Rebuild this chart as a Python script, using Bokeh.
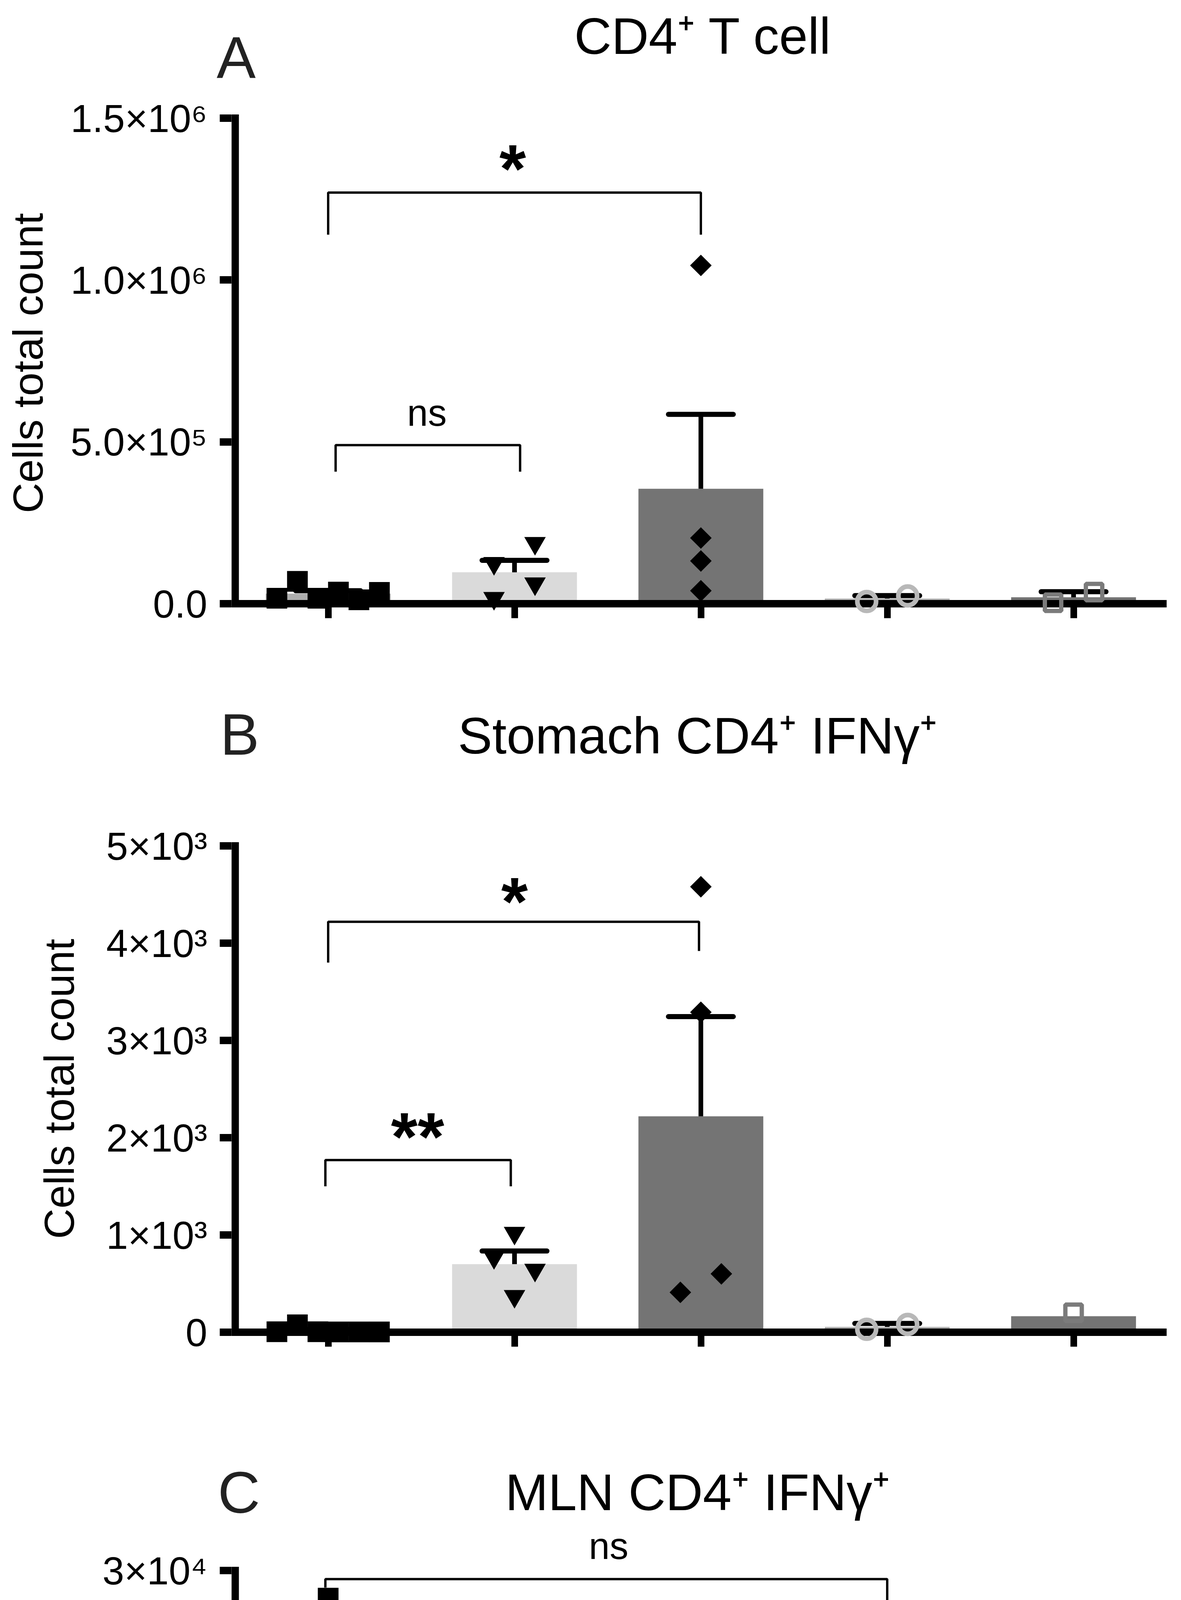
import numpy as np
from bokeh.plotting import figure
from bokeh.layouts import column
from bokeh.models import Range1d, FixedTicker, Span, Label
from bokeh.embed import file_html
from bokeh.resources import INLINE

# ---------------- data ----------------
categories = ["sham\nvaccinated", "UreA nc\nalone", "UreA nc+\nadjuvant",
              "adjuvant\nalone", "sham\nvaccinated"]
bar_colors = ["#adadad", "#dadada", "#747474", "#b4b4b4", "#747474"]
y_label = "Cells total count"
challenge_italic = "H. pylori"
challenge_rest = "challenge"

# Panel A: CD4+ T cell
a_title = "CD4⁺ T cell"
a_ymax = 1.5e6
a_ticks = [0.0, 5e5, 1e6, 1.5e6]
a_tick_labels = ["0.0", "5.0×10⁵", "1.0×10⁶", "1.5×10⁶"]
a_mean = [31000, 97000, 355000, 16000, 20000]
a_sem = [9000, 37000, 230000, 9000, 17000]
a_points = [[17000, 69000, 17000, 36000, 12000, 35000],
            [125000, 187000, 62000, 17000],
            [1045000, 203000, 132000, 40000],
            [7000, 24000],
            [3000, 36000]]
a_jitter = [[-0.275, -0.165, -0.055, 0.055, 0.165, 0.275],
            [-0.11, 0.11, 0.11, -0.11],
            [0.0, 0.0, 0.0, 0.0],
            [-0.11, 0.11],
            [-0.11, 0.11]]
# bracket: (x_left, x_right, y_bar, y_tip_left, y_tip_right)
a_brackets = [(0.04, 1.03, 490000, 408000, 408000),
              (0.0, 2.0, 1270000, 1140000, 1140000)]
a_marks = [("ns", 0.53, 599000), ("*", 0.99, 1380000)]

# Panel B: Stomach CD4+ IFNg+
b_title = "Stomach CD4⁺ IFNγ⁺"
b_ymax = 5000
b_ticks = [0.0, 1000.0, 2000.0, 3000.0, 4000.0, 5000.0]
b_tick_labels = ["0", "1×10³", "2×10³", "3×10³", "4×10³", "5×10³"]
b_mean = [15, 700, 2220, 55, 165]
b_sem = [12, 135, 1025, 35, 0]
b_points = [[5, 76, 5, 3, 3, 3],
            [1020, 770, 640, 370],
            [4580, 3290, 410, 600],
            [30, 80],
            [200]]
b_jitter = [[-0.275, -0.165, -0.055, 0.055, 0.165, 0.275],
            [0.0, -0.11, 0.11, 0.0],
            [0.0, 0.0, -0.11, 0.11],
            [-0.11, 0.11],
            [0.0]]
b_brackets = [(-0.015, 0.98, 1770, 1500, 1500),
              (0.0, 1.99, 4220, 3800, 3920)]
b_marks = [("**", 0.48, 2130), ("*", 1.0, 4550)]

# Panel C: MLN CD4+ IFNg+
c_title = "MLN CD4⁺ IFNγ⁺"
c_ymax = 30000
c_ticks = [0.0, 10000.0, 20000.0, 30000.0]
c_tick_labels = ["0", "1×10⁴", "2×10⁴", "3×10⁴"]
c_mean = [7300, 1340, 1080, 4850, 3320]
c_sem = [7100, 1410, 670, 2350, 1820]
c_points = [[0, 28300, 900, 240],
            [5450, 0, 0, 0],
            [3000, 720, 380, 380],
            [12800, 6600, 200, 200],
            [9300, 5500, 0, 0]]
c_jitter = [[-0.275, 0.0, 0.0, 0.275],
            [0.0, -0.275, 0.0, 0.275],
            [0.0, 0.0, -0.275, 0.275],
            [0.0, 0.0, -0.113, 0.113],
            [0.0, 0.0, -0.11, 0.11]]
c_brackets = [(-0.015, 3.0, 29470, 28950, 27800),
              (-0.02, 2.0, 24760, 23100, 23100),
              (0.057, 0.937, 18300, 16680, 16680)]
c_marks = [("ns", 1.505, 31700), ("ns", 1.0, 26900), ("ns", 0.5, 20500)]

# ---------------- styling / layout (page pixels) ----------------
FONT = "Liberation Sans"
PAD = 37             # px of frame below the zero line
CAT_W = 477.0        # px per category
CAT0 = 847.5         # page x of first category
FRAME_L = 600        # page x of frame left
FRAME_R = 2994       # page x of frame right
EM_SHIFT = 0.33      # baseline correction of label anchors (em)

marker_styles = [
    dict(marker="square", size=53, fill_color="black", line_color=None),
    dict(marker="inverted_triangle", size=55, fill_color="black", line_color=None),
    dict(marker="square", size=39, angle=np.pi / 4, fill_color="black", line_color=None),
    dict(marker="circle", size=48, fill_color=None, line_color="#b8b8b8", line_width=12),
    dict(marker="square", size=42, fill_color=None, line_color="#7b7b7b", line_width=11),
]


def px2x(px):
    return (px - CAT0) / CAT_W


def panel(spec):
    ymax, H, y0 = spec["ymax"], spec["H"], spec["y0"]
    fig_top, fig_bot, frame_top = spec["fig_top"], spec["fig_bot"], spec["frame_top"]
    frame_bot = y0 + PAD
    dpp = ymax / H

    def py2y(py):
        return (y0 - py) * dpp

    p = figure(frame_width=FRAME_R - FRAME_L, frame_height=frame_bot - frame_top,
               x_range=Range1d(px2x(FRAME_L), px2x(FRAME_R)),
               y_range=Range1d(py2y(frame_bot), py2y(frame_top)),
               min_border_left=FRAME_L - 8, min_border_right=3007 - (FRAME_R - 8),
               min_border_top=frame_top - fig_top, min_border_bottom=fig_bot - frame_bot,
               output_backend="svg", toolbar_location=None, tools="")
    p.outline_line_color = None
    p.xgrid.visible = False
    p.ygrid.visible = False
    p.background_fill_color = "white"
    p.border_fill_color = "white"

    def text(where, x_page, y_base_page, txt, fs, align="left", style="normal",
             color="black", angle=0.0):
        if angle == 0.0:
            x = px2x(x_page)
            y = py2y(y_base_page - EM_SHIFT * fs)
        else:
            x = px2x(x_page - EM_SHIFT * fs)
            y = py2y(y_base_page)
        lab = Label(x=x, y=y, text=txt, text_align=align, text_baseline="alphabetic",
                    text_font=FONT, text_font_size=f"{fs}px", text_font_style=style,
                    text_color=color, angle=angle)
        if where == "center":
            p.add_layout(lab)
        else:
            p.add_layout(lab, where)

    means, sems = spec["mean"], spec["sem"]
    xs = list(range(len(means)))
    p.vbar(x=xs, top=means, bottom=0, width=0.67, fill_color=bar_colors, line_color=None)

    idx = [i for i in xs if sems[i] > 0]
    tops = [means[i] + sems[i] for i in idx]
    p.segment(x0=idx, y0=[means[i] for i in idx], x1=idx, y1=tops,
              line_width=12, line_color="black")
    p.segment(x0=[i - 0.174 for i in idx], y0=tops, x1=[i + 0.174 for i in idx], y1=tops,
              line_width=13, line_color="black", line_cap="round")

    br = spec["brackets"]
    p.multi_line(xs=[[b[0], b[0], b[1], b[1]] for b in br],
                 ys=[[b[3], b[2], b[2], b[4]] for b in br],
                 line_width=6, line_color="black")

    # axis lines
    p.add_layout(Span(location=0, dimension="width", line_color="black", line_width=19))
    xl = px2x(FRAME_L + 9.5)
    p.segment(x0=[xl], y0=[-9.5 * dpp], x1=[xl], y1=[ymax + 9.5 * dpp],
              line_width=19, line_color="black")

    for g in xs:
        p.scatter(x=[g + j for j in spec["jitter"][g]], y=spec["points"][g],
                  level="overlay", **marker_styles[g])

    for t, x, y in spec["marks"]:
        if t.startswith("*"):
            fs, style, k = 175, "bold", 0.50
        else:
            fs, style, k = 96, "normal", 0.41
        base_page = y0 - y / dpp + k * fs
        text("center", CAT0 + x * CAT_W, base_page, t, fs, align="center", style=style)

    xa = p.xaxis[0]
    xa.ticker = FixedTicker(ticks=xs)
    xa.axis_line_color = None
    xa.major_tick_in = PAD
    xa.major_tick_out = 0
    xa.major_tick_line_width = 17
    xa.major_tick_line_color = "black"
    xa.minor_tick_line_color = None
    xa.major_label_text_font = FONT
    xa.major_label_text_color = "black"
    if spec["xlabels"]:
        xa.major_label_overrides = {i: categories[i] for i in xs}
        xa.major_label_text_font_size = "92px"
        xa.major_label_standoff = 34
        xa.major_label_text_line_height = 1.25
    else:
        xa.major_label_overrides = {i: "" for i in xs}
        xa.major_label_text_font_size = "0px"
        xa.major_label_standoff = 0

    ya = p.yaxis[0]
    ya.ticker = FixedTicker(ticks=spec["ticks"])
    ya.major_label_overrides = dict(zip(spec["ticks"], spec["tick_labels"]))
    ya.axis_line_color = None
    ya.major_tick_in = 0
    ya.major_tick_out = 30
    ya.major_tick_line_width = 19
    ya.major_tick_line_color = "black"
    ya.minor_tick_line_color = None
    ya.major_label_text_font = FONT
    ya.major_label_text_font_size = "100px"
    ya.major_label_text_color = "black"
    ya.major_label_standoff = 32

    # rotated y-axis title
    text("left", spec["ylabel_x"], spec["ylabel_y"], y_label, 108, align="center",
         angle=np.pi / 2)
    # panel letter and title
    text(spec["letter_where"], spec["letter_xy"][0], spec["letter_xy"][1], spec["letter"],
         150, color="#222222")
    text("center", spec["title_xy"][0], spec["title_xy"][1], spec["title"], 132,
         align="center")

    if spec["xlabels"]:
        # rule under the challenged groups
        try:
            rule = Label(x=px2x((681 + 2407) / 2), y=py2y(5661), text=" ",
                         text_font_size="1px", text_align="center", text_baseline="middle",
                         background_fill_color="black", border_line_color=None,
                         padding=dict(left=863, right=863, top=4, bottom=4))
            p.add_layout(rule, "below")
        except Exception:
            pass
        text("below", 1013, 5767, challenge_italic, 118, style="italic", color="#222222")
        text("above", 1477, 5767, challenge_rest, 118, color="#222222")
    return p


spec_a = dict(ymax=a_ymax, H=1243, y0=1553, fig_top=8, fig_bot=1800, frame_top=30,
              ticks=a_ticks, tick_labels=a_tick_labels, mean=a_mean, sem=a_sem,
              points=a_points, jitter=a_jitter, brackets=a_brackets, marks=a_marks,
              letter="A", letter_where="below", letter_xy=(562, 204),
              title=a_title, title_xy=(1808, 144), ylabel_x=115, ylabel_y=937,
              xlabels=False)
spec_b = dict(ymax=b_ymax, H=1245, y0=3418, fig_top=1800, fig_bot=3475, frame_top=1830,
              ticks=b_ticks, tick_labels=b_tick_labels, mean=b_mean, sem=b_sem,
              points=b_points, jitter=b_jitter, brackets=b_brackets, marks=b_marks,
              letter="B", letter_where="left", letter_xy=(571, 1937),
              title=b_title, title_xy=(1793, 1935), ylabel_x=195, ylabel_y=2795,
              xlabels=False)
spec_c = dict(ymax=c_ymax, H=1248, y0=5276, fig_top=3475, fig_bot=5812, frame_top=3740,
              ticks=c_ticks, tick_labels=c_tick_labels, mean=c_mean, sem=c_sem,
              points=c_points, jitter=c_jitter, brackets=c_brackets, marks=c_marks,
              letter="C", letter_where="left", letter_xy=(565, 3878),
              title=c_title, title_xy=(1793, 3872), ylabel_x=195, ylabel_y=4652,
              xlabels=True)

pa = panel(spec_a)
pb = panel(spec_b)
pc = panel(spec_c)

layout = column(pa, pb, pc, spacing=0)
open("out.html", "w").write(file_html(layout, INLINE))
